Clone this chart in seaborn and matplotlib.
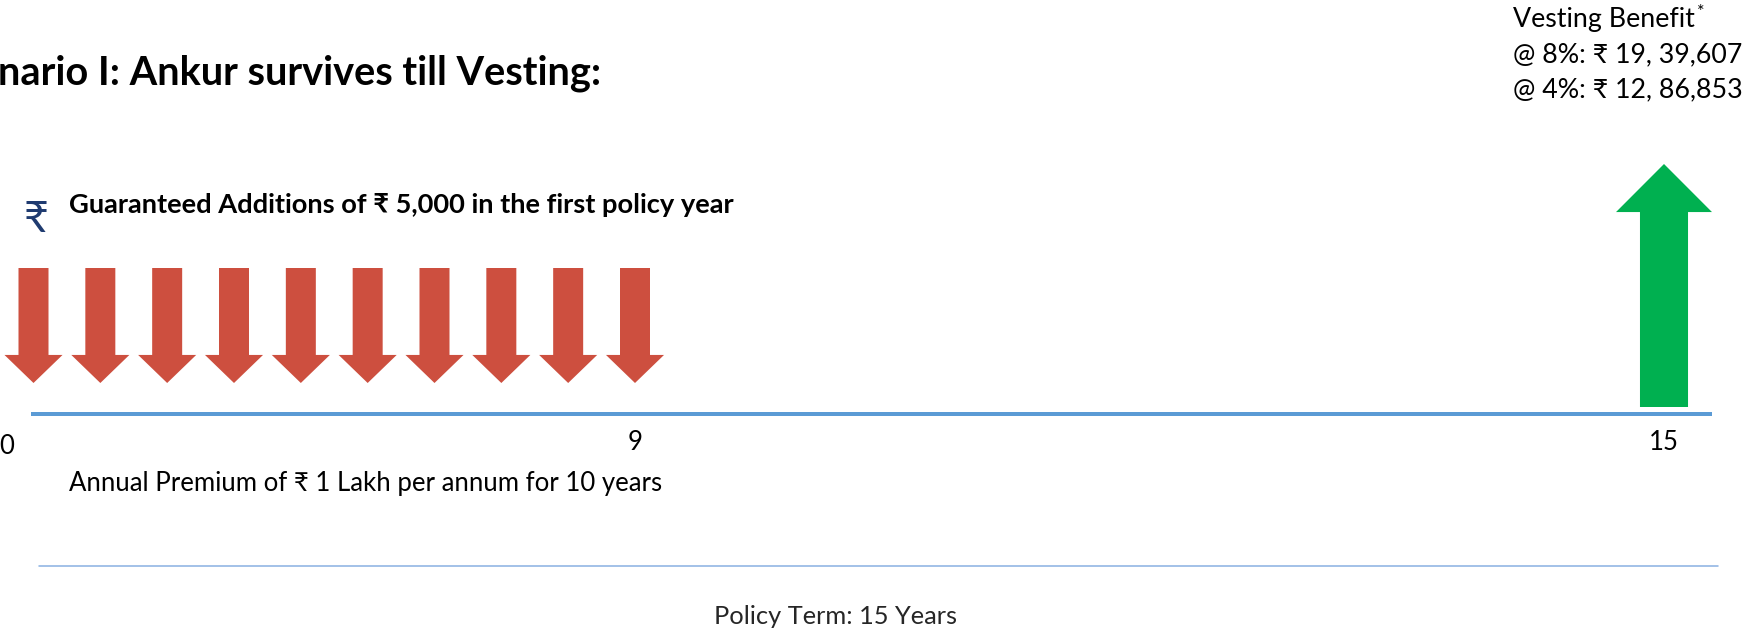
# Scenario I timeline: premiums paid for 10 years, vesting benefit at year 15
import numpy as np
import matplotlib
matplotlib.use("Agg")
import matplotlib.pyplot as plt
import seaborn as sns

# ---- data ----
premium_years = list(range(10))          # one premium arrow per policy year 0..9
vesting_year = 15
milestone_years = [0, 9, 15]
milestone_labels = ["0", "9", "15"]
title_text = "nario I: Ankur survives till Vesting:"
ga_text = "Guaranteed Additions of ₹ 5,000 in the first policy year"
premium_text = "Annual Premium of ₹ 1 Lakh per annum for 10 years"
term_text = "Policy Term: 15 Years"
vesting_lines = ["Vesting Benefit", "@ 8%: ₹ 19, 39,607", "@ 4%: ₹ 12, 86,853"]

# ---- style ----
W, H = 1748, 630
RED = "#CD4F3F"
GREEN = "#00B050"
BLUE = "#5B9BD5"
NAVY = "#1F3B70"

sns.set_theme(style="white")
plt.rcParams["font.family"] = ["Lato", "Noto Sans", "DejaVu Sans"]
plt.rcParams["text.color"] = "black"

# schematic (broken) time axis: premium years are packed, later years stretched
year_bp = np.array([-10, 0, 9, 15, 25])
pix_bp = np.array([33.5 - 10 * 66.85, 33.5, 635, 1664, 1664 + 10 * 171.5])


def fwd(x):
    return np.interp(x, year_bp, pix_bp)


def inv(p):
    return np.interp(p, pix_bp, year_bp)


fig = plt.figure(figsize=(W / 100, H / 100), dpi=100)
ax = fig.add_axes([0, 0, 1, 1])
ax.set_xscale("function", functions=(fwd, inv))
ax.set_xlim(inv(0), inv(W))
ax.set_ylim(H, 0)
ax.axis("off")

pt = 72 / 100  # px -> points

# premium arrows (down)
red_style = "simple,head_length=%.1f,head_width=%.1f,tail_width=%.1f" % (28 * pt, 58 * pt, 30 * pt)
for yr in premium_years:
    ax.annotate("", xy=(yr, 383), xytext=(yr, 268),
                arrowprops=dict(arrowstyle=red_style, mutation_scale=1, fc=RED,
                                ec="none", shrinkA=0, shrinkB=0))

# vesting arrow (up)
green_style = "simple,head_length=%.1f,head_width=%.1f,tail_width=%.1f" % (48 * pt, 96 * pt, 48 * pt)
ax.annotate("", xy=(vesting_year, 164), xytext=(vesting_year, 407),
            arrowprops=dict(arrowstyle=green_style, mutation_scale=1, fc=GREEN,
                            ec="none", shrinkA=0, shrinkB=0))

# timeline
ax.plot([inv(31), inv(1712)], [414, 414], color=BLUE, lw=4 * pt, solid_capstyle="butt")
ax.axhline(566, xmin=39 / W, xmax=1718 / W, color="#8EB4E3", lw=1.6 * pt)

# milestone labels
for yr, lab in zip(milestone_years, milestone_labels):
    if yr == 0:
        ax.annotate(lab, xy=(yr, 454), xytext=(-19 * pt, 0), textcoords="offset points",
                    ha="right", va="baseline", fontsize=18.5)
    else:
        ax.text(yr, 450, lab, ha="center", va="baseline", fontsize=18.5)


def ftext(x, y, s, **kw):
    return fig.text(x / W, 1 - y / H, s, **kw)


ftext(-2, 84, title_text, fontsize=28.6, fontweight="bold", ha="left", va="baseline")
ftext(23, 232, "₹", fontsize=31, color=NAVY, ha="left", va="baseline")
ftext(69, 213, ga_text, fontsize=19.6, fontweight="bold", ha="left", va="baseline")
ftext(366, 491, premium_text, fontsize=18.5, ha="center", va="baseline")
ftext(836, 624, term_text, fontsize=18.3, ha="center", va="baseline", color="#262626")

for i, line in enumerate(vesting_lines):
    t = ftext(1513, 27 + 35 * i, line, fontsize=19.3, ha="left", va="baseline")
    if i == 0:
        ax.annotate("*", xy=(1, 1), xycoords=t, xytext=(1.5, 2), textcoords="offset points",
                    ha="left", va="top", fontsize=13)

fig.savefig("out.png", dpi=100)
